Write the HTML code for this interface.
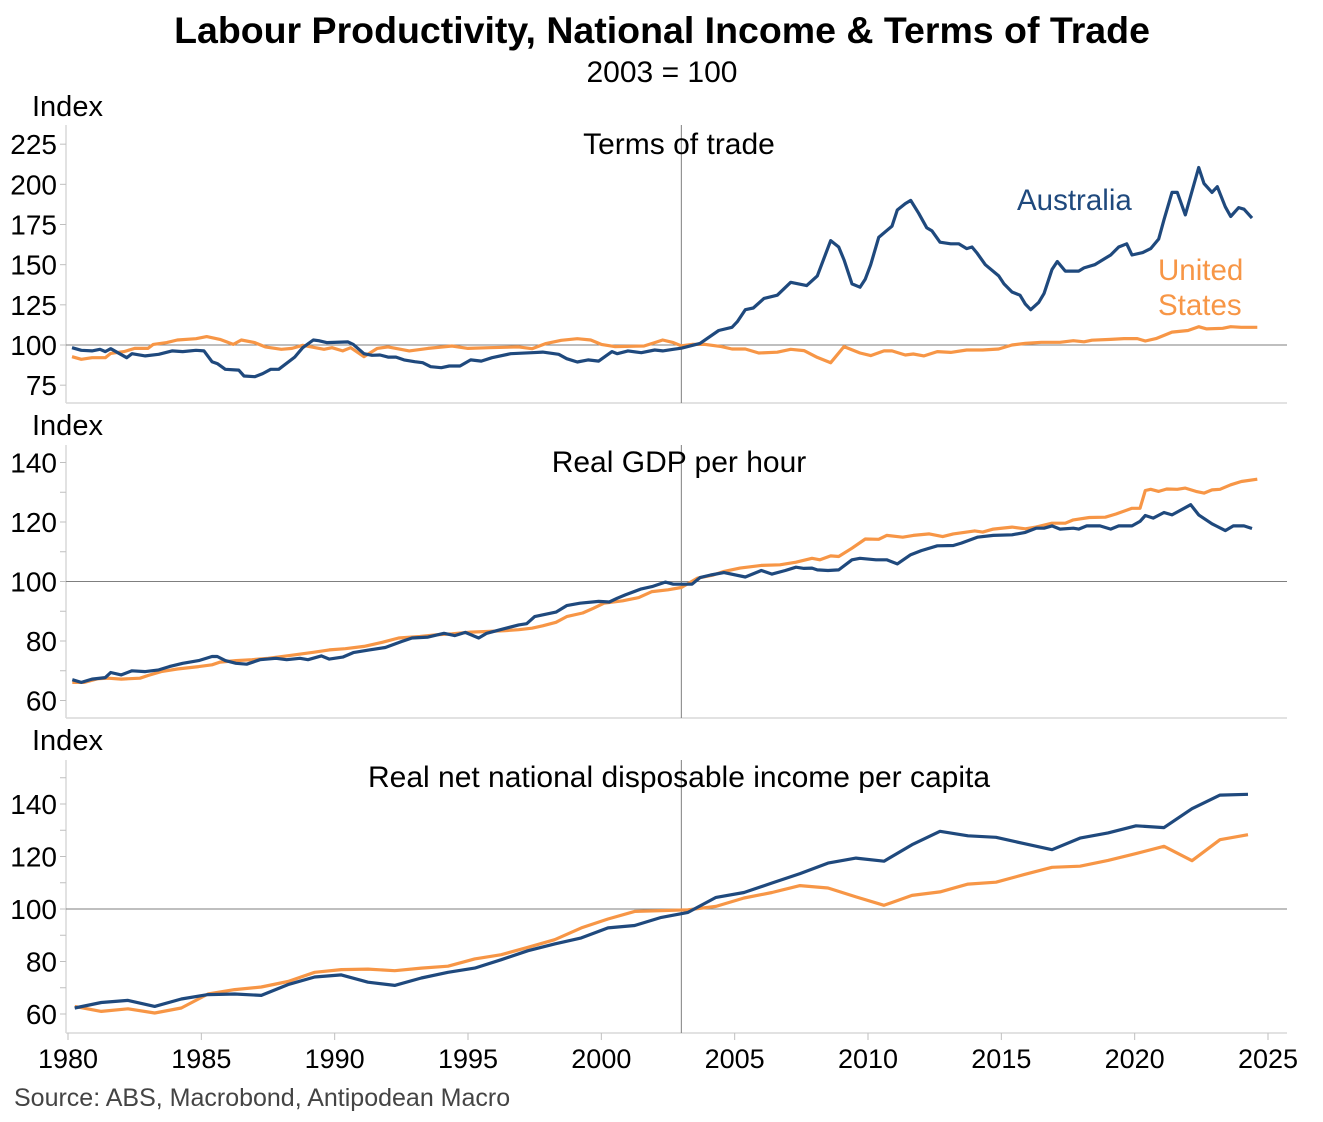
<!DOCTYPE html>
<html><head><meta charset="utf-8"><style>
body{margin:0;background:#fff;}
svg{display:block;font-family:"Liberation Sans",Arial,sans-serif;}
</style></head><body>
<svg id="chart" width="1323" height="1122" viewBox="0 0 1323 1122">
<text x="662" y="43" text-anchor="middle" font-size="37.5" font-weight="bold" fill="#000">Labour Productivity, National Income &amp; Terms of Trade</text>
<text x="662" y="82" text-anchor="middle" font-size="30" fill="#000">2003 = 100</text>
<text x="14" y="1106" font-size="25" fill="#444">Source: ABS, Macrobond, Antipodean Macro</text>
<g id="plots"></g>
</svg>
<script>
// ---- Panel 1: Terms of trade ----
const totAusYears=[1980.15,1980.5,1980.9,1981.2,1981.4,1981.6,1982.2,1982.4,1982.9,1983.4,1983.9,1984.3,1984.8,1985.1,1985.4,1985.6,1985.9,1986.4,1986.6,1987.0,1987.3,1987.6,1987.9,1988.5,1988.8,1989.2,1989.4,1989.7,1990.5,1990.7,1991.1,1991.4,1991.7,1992.0,1992.3,1992.6,1993.0,1993.3,1993.6,1994.0,1994.3,1994.7,1995.1,1995.5,1995.9,1996.6,1997.4,1997.8,1998.4,1998.7,1999.1,1999.5,1999.9,2000.4,2000.6,2001.0,2001.5,2002.0,2002.3,2002.7,2003.0,2003.7,2004.4,2004.9,2005.1,2005.4,2005.7,2006.1,2006.6,2007.1,2007.7,2008.1,2008.6,2008.9,2009.1,2009.4,2009.7,2009.9,2010.1,2010.4,2010.9,2011.1,2011.4,2011.6,2011.9,2012.2,2012.4,2012.7,2013.1,2013.4,2013.7,2013.9,2014.1,2014.4,2014.9,2015.1,2015.4,2015.7,2015.9,2016.1,2016.4,2016.6,2016.9,2017.1,2017.4,2017.9,2018.1,2018.5,2018.9,2019.1,2019.4,2019.7,2019.9,2020.3,2020.6,2020.9,2021.1,2021.4,2021.6,2021.9,2022.4,2022.6,2022.9,2023.1,2023.4,2023.6,2023.9,2024.1,2024.4];
const totAusValues=[98.3,96.7,96.3,97.3,95.9,97.7,92.1,94.6,93.2,94.2,96.3,95.9,96.7,96.3,89.6,88.4,84.9,84.4,80.7,80.3,82.2,84.9,84.9,92.5,98.3,103.1,102.7,101.5,101.9,100.4,94.6,93.6,93.8,92.5,92.5,90.7,89.6,89,86.5,85.9,86.9,86.9,90.7,90,92.1,94.6,95.2,95.6,94.2,91.5,89.4,90.7,90,95.9,94.6,96.3,95.2,96.9,96.3,97.3,98,101,109,111,114.5,122,123,129,131,139,137,143,165,161,153,138,136,141,150,167,174,184,188,190,182,173,171,164,163,163,160,161,157,150,143,138,133,131,125.5,122,126.5,132,147,152,146,146,148,150,154,156,161,163,156,157.5,160,166,178,195,195,181,210.5,200.5,195,198.5,186,180,185.5,184.5,179];
const totUsYears=[1980.15,1980.5,1980.9,1981.4,1981.6,1982.1,1982.5,1983.0,1983.2,1983.7,1984.1,1984.8,1985.2,1985.7,1986.2,1986.5,1987.0,1987.4,1988.0,1988.4,1988.8,1989.6,1989.9,1990.3,1990.6,1991.1,1991.6,1992.0,1992.8,1993.5,1994.4,1995.0,1995.8,1996.9,1997.4,1997.9,1998.5,1999.1,1999.6,2000.0,2000.5,2001.6,2002.0,2002.3,2002.7,2003.0,2003.4,2003.9,2004.5,2004.9,2005.4,2005.9,2006.6,2007.1,2007.6,2008.1,2008.6,2009.1,2009.7,2010.1,2010.6,2010.9,2011.4,2011.7,2012.1,2012.6,2013.1,2013.7,2014.3,2014.9,2015.4,2015.9,2016.5,2017.2,2017.7,2018.1,2018.4,2019.1,2019.6,2020.1,2020.4,2020.8,2021.4,2022.0,2022.4,2022.7,2023.3,2023.6,2024.0,2024.6];
const totUsValues=[92.7,91.1,92.1,92.1,94.8,95.9,97.9,97.9,100.4,101.5,103.1,103.9,105.2,103.5,100.4,103.1,101.5,98.8,97.3,97.9,99.8,97.3,98.3,96.3,98.3,92.7,97.9,98.8,96.3,97.9,99.4,97.9,98.3,98.8,97.7,100.8,102.9,103.9,103.1,100.4,99,99.4,101.5,103.1,101.5,99.5,100.4,100.4,99,97.5,97.5,95,95.5,97.3,96.5,92.3,89,99,95,93.4,96.3,96.3,93.8,94.4,93.2,95.9,95.4,96.9,96.9,97.5,100,101,101.7,101.7,102.7,102,103,103.5,104,104,102.5,104,108,109,111.4,110,110.4,111.4,111,111];
const totTicks=[75,100,125,150,175,200,225];
// ---- Panel 2: Real GDP per hour ----
const gdpAusYears=[1980.16,1980.5,1980.9,1981.4,1981.6,1982.0,1982.4,1982.9,1983.4,1983.8,1984.3,1984.9,1985.4,1985.6,1985.9,1986.3,1986.7,1987.2,1987.8,1988.2,1988.7,1989.0,1989.5,1989.8,1990.3,1990.7,1991.3,1991.9,1992.5,1992.9,1993.5,1994.1,1994.5,1994.9,1995.4,1995.7,1996.3,1996.9,1997.2,1997.5,1998.3,1998.7,1999.2,1999.9,2000.3,2000.6,2000.9,2001.5,2001.9,2002.4,2002.7,2003.1,2003.4,2003.7,2004.1,2004.6,2005.4,2006.0,2006.4,2006.9,2007.3,2007.6,2007.9,2008.1,2008.5,2008.9,2009.4,2009.7,2010.3,2010.7,2011.1,2011.6,2012.0,2012.6,2013.2,2013.5,2014.1,2014.7,2015.4,2015.9,2016.3,2016.6,2016.9,2017.2,2017.7,2017.9,2018.2,2018.7,2019.1,2019.4,2019.9,2020.2,2020.4,2020.7,2021.1,2021.4,2022.1,2022.4,2022.9,2023.1,2023.4,2023.7,2024.1,2024.4];
const gdpAusValues=[67,66.1,67.2,67.7,69.4,68.6,70,69.7,70.3,71.4,72.5,73.4,74.8,74.8,73.4,72.5,72.2,73.7,74.2,73.7,74.2,73.7,75,73.9,74.6,76.1,77,77.8,79.8,81,81.3,82.6,81.8,82.9,81,82.6,84,85.4,85.8,88.2,89.7,91.9,92.7,93.3,93.1,94.4,95.5,97.5,98.3,99.8,99.1,99.1,99.1,101.3,102.2,103,101.5,103.7,102.5,103.7,104.8,104.4,104.5,103.9,103.7,103.9,107.3,107.8,107.3,107.3,105.9,109,110.4,112,112.1,112.9,114.9,115.5,115.7,116.5,117.9,117.9,118.7,117.6,117.9,117.6,118.7,118.7,117.6,118.7,118.7,120.2,122.2,121.3,123.2,122.4,125.8,122.4,119.4,118.5,117.1,118.7,118.7,117.8];
const gdpUsYears=[1980.16,1980.6,1981.1,1981.5,1982.0,1982.7,1983.0,1983.5,1984.1,1984.9,1985.4,1985.7,1986.3,1986.9,1987.5,1988.3,1989.2,1989.8,1990.4,1991.1,1991.8,1992.4,1993.2,1993.8,1994.4,1995.1,1995.7,1996.4,1996.9,1997.4,1997.8,1998.3,1998.7,1999.3,1999.7,2000.1,2000.8,2001.4,2001.9,2002.5,2003.0,2003.6,2004.2,2004.6,2005.2,2006.0,2006.7,2007.3,2007.9,2008.2,2008.6,2008.9,2009.4,2009.9,2010.4,2010.7,2011.3,2011.7,2012.3,2012.8,2013.2,2014.0,2014.3,2014.7,2015.4,2015.9,2016.3,2016.9,2017.4,2017.7,2018.3,2018.9,2019.3,2019.9,2020.2,2020.4,2020.6,2020.9,2021.2,2021.6,2021.9,2022.3,2022.6,2022.9,2023.2,2023.6,2024.0,2024.6];
const gdpUsValues=[66.1,66.1,67.3,67.5,67.2,67.5,68.4,69.7,70.6,71.4,72,72.9,73.4,73.7,74.2,75.1,76.2,77,77.4,78.2,79.6,81,81.5,82.1,82.4,83,83.2,83.5,83.8,84.3,85.1,86.3,88.2,89.4,91,92.7,93.5,94.6,96.6,97.2,98,101.1,102.2,103.4,104.5,105.4,105.6,106.5,107.8,107.3,108.6,108.4,111.2,114.3,114.2,115.5,114.9,115.5,116,115.1,116,117,116.6,117.6,118.3,117.7,118.3,119.6,119.6,120.7,121.5,121.6,122.7,124.6,124.6,130.6,131,130.3,131.1,131,131.4,130.3,129.7,130.8,131,132.5,133.6,134.4];
const gdpTicks=[60,80,100,120,140];
// ---- Panel 3: Real net national disposable income per capita ----
const incYears=[1980.25,1981.25,1982.25,1983.25,1984.25,1985.25,1986.25,1987.25,1988.25,1989.25,1990.25,1991.25,1992.25,1993.25,1994.25,1995.25,1996.25,1997.25,1998.25,1999.25,2000.25,2001.25,2002.25,2003.25,2004.3,2005.35,2006.4,2007.45,2008.5,2009.55,2010.6,2011.65,2012.7,2013.75,2014.8,2015.85,2016.9,2017.95,2019.0,2020.05,2021.1,2022.15,2023.2,2024.25];
const incAusValues=[62.3,64.4,65.2,62.9,65.7,67.4,67.6,67.1,71.2,74.1,74.9,72.1,70.9,73.7,75.9,77.5,80.7,84.1,86.7,89,92.8,93.7,96.8,98.7,104.4,106.3,109.9,113.5,117.5,119.4,118.2,124.5,129.6,127.9,127.3,124.9,122.6,127,129,131.7,131,138.2,143.4,143.7];
const incUsValues=[62.9,61,62,60.4,62.3,67.6,69.3,70.3,72.4,75.9,76.9,77.1,76.5,77.5,78.2,81,82.6,85.4,88.3,92.8,96.2,99.1,99.4,99.7,101,104.2,106.3,108.9,108,104.6,101.4,105.2,106.5,109.5,110.2,113.1,115.9,116.3,118.5,121.1,123.9,118.4,126.4,128.3];
const incTicks=[60,80,100,120,140];
const xTicks=[1980,1985,1990,1995,2000,2005,2010,2015,2020,2025];

const NS='http://www.w3.org/2000/svg';
const X0=68, PXY=1200/45, AXL=66, AXR=1287;
function xs(y){return X0+(y-1980)*PXY;}
const AUS='#1f497d', US='#f79646';
const plots=document.getElementById('plots');
function mk(tag,attrs,parent){const e=document.createElementNS(NS,tag);for(const k in attrs)e.setAttribute(k,attrs[k]);(parent||plots).appendChild(e);return e;}

function panel(cfg){
  const ys=v=>cfg.y100-(v-100)*cfg.ppu;
  const g=mk('g',{});
  
  
  const ax=mk('line',{x1:AXL,x2:AXL,y1:cfg.top,y2:cfg.bottom,stroke:'#d9d9d9','stroke-width':1.5},g);
  
  
  const bx=mk('line',{x1:AXL,x2:AXR,y1:cfg.bottom,y2:cfg.bottom,stroke:'#d9d9d9','stroke-width':1.5},g);
  
  
  for(let v=cfg.minorFrom;v<=cfg.minorTo;v+=cfg.minorStep){
    const t=mk('line',{x1:AXL-6,x2:AXL,y1:ys(v),y2:ys(v),stroke:'#bfbfbf','stroke-width':1},g);
    
    
  }
  cfg.ticks.forEach(v=>{
    const t=mk('text',{x:57,y:ys(v)+10,'text-anchor':'end','font-size':28,fill:'#000'},g);
    t.textContent=v;
    
    
  });
  const idx=mk('text',{x:32,y:cfg.indexY,'font-size':29,fill:'#000'},g);
  idx.textContent='Index';
  
  
  const ref=mk('line',{x1:AXL,x2:AXR,y1:ys(100),y2:ys(100),stroke:'#7f7f7f','stroke-width':1},g);
  
  
  const vl=mk('line',{x1:xs(2003),x2:xs(2003),y1:cfg.top,y2:cfg.bottom,stroke:'#7f7f7f','stroke-width':1},g);
  
  
  const tt=mk('text',{x:679,y:cfg.titleY,'text-anchor':'middle','font-size':30,fill:'#000'},g);
  tt.textContent=cfg.title;
  
  
  cfg.series.forEach(s=>{
    const d=s.years.map((yr,i)=>(i?'L':'M')+xs(yr).toFixed(1)+' '+ys(s.values[i]).toFixed(1)).join(' ');
    const p=mk('path',{d:d,fill:'none',stroke:s.color,'stroke-width':3.2,'stroke-linejoin':'round'},g);
    
    
  });
}

panel({name:'terms-of-trade-panel',top:125,bottom:403,y100:345,ppu:241/150,ticks:totTicks,minorFrom:75,minorTo:225,minorStep:25,indexY:116,titleY:154,title:'Terms of trade',
  series:[{name:'us-terms-of-trade-line',years:totUsYears,values:totUsValues,color:US},{name:'australia-terms-of-trade-line',years:totAusYears,values:totAusValues,color:AUS}]});
panel({name:'gdp-per-hour-panel',top:445,bottom:718,y100:581.5,ppu:238/80,ticks:gdpTicks,minorFrom:60,minorTo:140,minorStep:10,indexY:435,titleY:472,title:'Real GDP per hour',
  series:[{name:'us-gdp-per-hour-line',years:gdpUsYears,values:gdpUsValues,color:US},{name:'australia-gdp-per-hour-line',years:gdpAusYears,values:gdpAusValues,color:AUS}]});
panel({name:'income-per-capita-panel',top:760,bottom:1033,y100:909,ppu:210/80,ticks:incTicks,minorFrom:60,minorTo:150,minorStep:10,indexY:750,titleY:787,title:'Real net national disposable income per capita',
  series:[{name:'us-income-line',years:incYears,values:incUsValues,color:US},{name:'australia-income-line',years:incYears,values:incAusValues,color:AUS}]});

xTicks.forEach(yr=>{
  const t=mk('line',{x1:xs(yr),x2:xs(yr),y1:1033,y2:1040,stroke:'#bfbfbf','stroke-width':1});
  
  
  const l=mk('text',{x:xs(yr),y:1068,'text-anchor':'middle','font-size':27,fill:'#000'});
  l.textContent=yr;
  
  
});
const la=mk('text',{x:1017,y:210,'font-size':29.5,fill:AUS});
la.textContent='Australia';


const lu1=mk('text',{x:1158,y:280,'font-size':29.5,fill:US});
lu1.textContent='United';


const lu2=mk('text',{x:1158,y:315,'font-size':29.5,fill:US});
lu2.textContent='States';


</script>
</body></html>
